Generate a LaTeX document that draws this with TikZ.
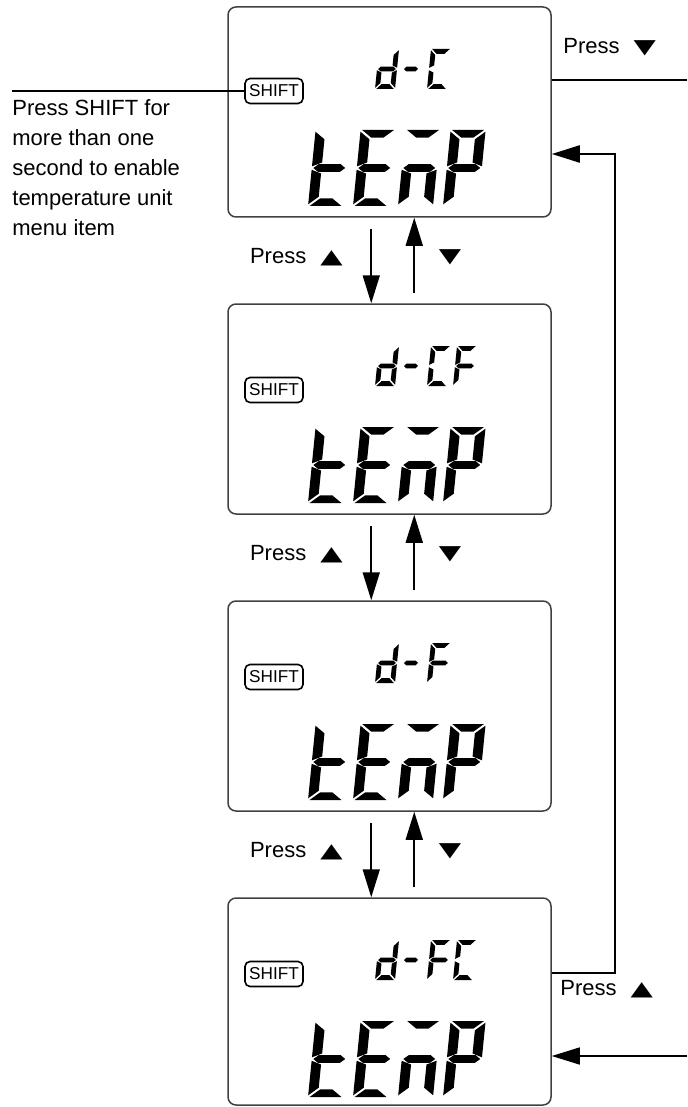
\documentclass[tikz,border=0pt]{standalone}
\usepackage{fontspec}
\setmainfont{Liberation Sans}
\newfontfamily\symfont{DejaVu Sans}
\usepackage{graphicx}
\usetikzlibrary{arrows.meta}

\newcommand{\triup}{{\fontsize{10}{10}\symfont\scalebox{1.45}[1]{▲}}}
\newcommand{\tridown}{{\fontsize{10}{10}\symfont\scalebox{1.45}[1]{▼}}}

% seven-segment pieces, cell 1 wide and 2 high
\newcommand{\lcdsegA}{\fill (\sgap,2) -- ({1-\sgap},2) -- ({1-\sgap-\sthx},{2-\sthy}) -- ({\sgap+\sthx},{2-\sthy}) -- cycle;}
\newcommand{\lcdsegB}{\fill (1,{2-\sgap}) -- ({1-\sthx},{2-\sgap-\sthy}) -- ({1-\sthx},{1+\sgap+\sthy/2}) -- (1,{1+\sgap}) -- cycle;}
\newcommand{\lcdsegC}{\fill (1,{1-\sgap}) -- ({1-\sthx},{1-\sgap-\sthy/2}) -- ({1-\sthx},{\sgap+\sthy}) -- (1,\sgap) -- cycle;}
\newcommand{\lcdsegD}{\fill (\sgap,0) -- ({1-\sgap},0) -- ({1-\sgap-\sthx},\sthy) -- ({\sgap+\sthx},\sthy) -- cycle;}
\newcommand{\lcdsegE}{\fill (0,{1-\sgap}) -- (\sthx,{1-\sgap-\sthy/2}) -- (\sthx,{\sgap+\sthy}) -- (0,\sgap) -- cycle;}
\newcommand{\lcdsegF}{\fill (0,{2-\sgap}) -- (\sthx,{2-\sgap-\sthy}) -- (\sthx,{1+\sgap+\sthy/2}) -- (0,{1+\sgap}) -- cycle;}
\newcommand{\lcdsegG}{\fill (\sgap,1) -- ({\sgap+\sthx/2},{1+\sthy/2}) -- ({1-\sgap-\sthx/2},{1+\sthy/2}) -- ({1-\sgap},1) -- ({1-\sgap-\sthx/2},{1-\sthy/2}) -- ({\sgap+\sthx/2},{1-\sthy/2}) -- cycle;}
\newcommand{\lcdsegM}{\fill (0.15,1) -- ({0.15+\sthx/2},{1+\sthy/2}) -- ({0.85-\sthx/2},{1+\sthy/2}) -- (0.85,1) -- ({0.85-\sthx/2},{1-\sthy/2}) -- ({0.15+\sthx/2},{1-\sthy/2}) -- cycle;}

\newcommand{\lcdglyph}[5]{%
  \begin{scope}[shift={(#1,#2)}, x=#3, y=#4, xslant=0.1]
    \foreach \sg in {#5} {\csname lcdseg\sg\endcsname}
  \end{scope}}
\newcommand{\bigglyph}[3]{\def\sthx{0.28}\def\sthy{0.2}\def\sgap{0.045}\lcdglyph{#1}{#2}{17.5pt}{19pt}{#3}}
\newcommand{\smallglyph}[3]{\def\sthx{0.24}\def\sthy{0.24}\def\sgap{0.06}\lcdglyph{#1}{#2}{10pt}{10pt}{#3}}
\newcommand{\lcdtemp}[1]{% tEnP, baseline at #1
  \bigglyph{308}{#1}{F,E,G,D}
  \bigglyph{353}{#1}{A,F,E,G,D}
  \bigglyph{398}{#1}{A,G,E,C}
  \bigglyph{443}{#1}{A,B,F,G,E}}

\begin{document}
\begin{tikzpicture}[x=0.5pt, y=-0.5pt,
  lcdbox/.style={draw=black!75, line width=0.75pt, rounded corners=4pt,
                 minimum width=161.5pt, minimum height=105pt, inner sep=0pt},
  shiftkey/.style={draw, line width=0.8pt, rounded corners=2.5pt, minimum width=29pt,
                   minimum height=12.5pt, inner sep=0pt, font=\fontsize{8.6}{9}\selectfont},
  arr/.style={-{Triangle[length=14pt, width=8.5pt]}, line width=0.85pt},
  lbl/.style={inner sep=0pt, font=\fontsize{11}{13}\selectfont},
  note/.style={inner sep=0pt, align=left, font=\fontsize{11}{15}\selectfont}
]
  \useasboundingbox (0,0) rectangle (687,1107);

  % Displays
  \node[lcdbox] (b1) at (389.5,112) {};
  \node[lcdbox] (b2) at (389.5,409) {};
  \node[lcdbox] (b3) at (389.5,706) {};
  \node[lcdbox, minimum height=103.5pt] (b4) at (389.5,1001.5) {};

  \node[shiftkey] (s1) at (274,91) {SHIFT};
  \node[shiftkey] (s2) at (274,390) {SHIFT};
  \node[shiftkey] (s3) at (274,677) {SHIFT};
  \node[shiftkey] (s4) at (274,974) {SHIFT};

  % d-C
  \smallglyph{375}{89}{B,C,D,E,G}
  \smallglyph{399}{89}{M}
  \smallglyph{427}{89}{A,F,E,D}
  \lcdtemp{206}
  % d-CF
  \smallglyph{375}{386}{B,C,D,E,G}
  \smallglyph{399}{386}{M}
  \smallglyph{427}{386}{A,F,E,D}
  \smallglyph{453}{386}{A,F,E,G}
  \lcdtemp{503}
  % d-F
  \smallglyph{375}{683}{B,C,D,E,G}
  \smallglyph{399}{683}{M}
  \smallglyph{427}{683}{A,F,E,G}
  \lcdtemp{800}
  % d-FC
  \smallglyph{375}{980}{B,C,D,E,G}
  \smallglyph{399}{980}{M}
  \smallglyph{427}{980}{A,F,E,G}
  \smallglyph{453}{980}{A,F,E,D}
  \lcdtemp{1097}

  % Steps between displays
  \foreach \a/\b in {b1/b2, b2/b3, b3/b4} {
    \draw[arr] ([xshift=72pt, yshift=-5.5pt]\a.south west) -- ([xshift=72pt]\b.north west);
    \draw[arr] ([xshift=93.5pt, yshift=5pt]\b.north west) -- ([xshift=93.5pt]\a.south west);
  }
  \node[lbl, anchor=east] (pu1) at (343,257) {Press\hspace{7pt}\triup};
  \node[lbl] (pd1) at (450,257) {\tridown};
  \node[lbl, anchor=east] (pu2) at (343,554) {Press\hspace{7pt}\triup};
  \node[lbl] (pd2) at (450,554) {\tridown};
  \node[lbl, anchor=east] (pu3) at (343,851) {Press\hspace{7pt}\triup};
  \node[lbl] (pd3) at (450,851) {\tridown};

  % Right side
  \coordinate (outr) at (687,80);
  \draw[line width=0.7pt] (b1.east |- outr) -- (outr);
  \node[lbl, anchor=west] (pd0) at (563,47) {Press\hspace{7pt}\tridown};

  \coordinate (lpt) at (615,154);
  \coordinate (lpb) at (615,973);
  \draw[arr, line width=1.1pt] (b4.east |- lpb) -- (lpb) -- (lpt) -- (b1.east |- lpt);
  \node[lbl, anchor=west] (pu0) at (560,989) {Press\hspace{7pt}\triup};

  \coordinate (inr) at (687,1056);
  \draw[arr, line width=0.75pt] (inr) -- (b4.east |- inr);

  % SHIFT hint
  \coordinate (lft) at (12,91);
  \draw[line width=1.4pt] (lft) -- (s1.west);
  \node[note, anchor=north west] (hint) at (12,99)
    {Press SHIFT for\\more than one\\second to enable\\temperature unit\\menu item};
\end{tikzpicture}
\end{document}
